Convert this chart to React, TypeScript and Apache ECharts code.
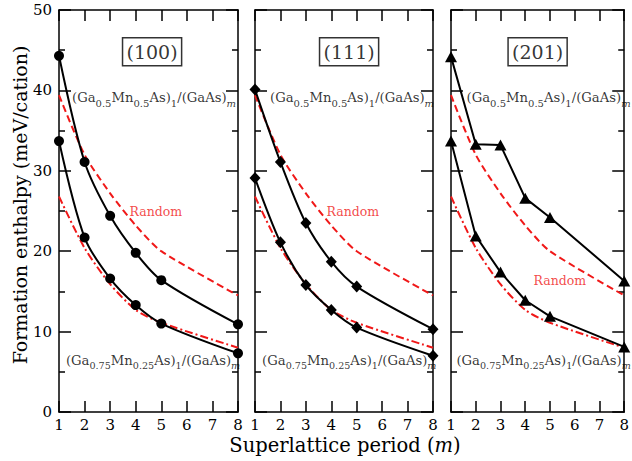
import React, { useEffect, useRef } from 'react';
import * as echarts from 'echarts';

// ---- data ----
const periods = [1, 2, 3, 4, 5, 8];
const tickPeriods = [1, 2, 3, 4, 5, 6, 7, 8];
const panelLabels = ['(100)', '(111)', '(201)'];
const panelSymbols = ['circle', 'diamond', 'triangle'];

const half100 = [44.3, 31.1, 24.4, 19.8, 16.4, 10.9];
const quarter100 = [33.7, 21.7, 16.6, 13.3, 11.0, 7.3];
const half111 = [40.1, 31.1, 23.5, 18.7, 15.6, 10.3];
const quarter111 = [29.1, 21.1, 15.8, 12.7, 10.5, 7.0];
const half201 = [44.2, 33.3, 33.2, 26.6, 24.2, 16.3];
const quarter201 = [33.7, 21.9, 17.4, 13.9, 11.9, 8.1];
const randomHalf = [39.4, 32.0, 27.2, 23.2, 20.0, 14.5];
const randomQuarter = [26.8, 20.4, 15.9, 12.7, 11.1, 8.0];

const halfSeries = [half100, half111, half201];
const quarterSeries = [quarter100, quarter111, quarter201];

const FONT = 'DejaVu Serif';
const RED = '#f01818';

export default function App() {
  const ref = useRef<HTMLDivElement>(null);

  useEffect(() => {
    const chart = echarts.init(ref.current!, null, { renderer: 'svg' });

    const grids = [
      { left: 59, top: 10, width: 179, height: 402 },
      { left: 255, top: 10, width: 178, height: 402 },
      { left: 451, top: 10, width: 179, height: 402 },
    ];

    const axisLine = { show: true, onZero: false, lineStyle: { color: '#000', width: 1.5 } };
    const tickStyle = { color: '#000', width: 1.5 };

    const xAxis: any[] = [];
    const yAxis: any[] = [];
    grids.forEach((_, i) => {
      ['bottom', 'top'].forEach((pos) => {
        xAxis.push({
          gridIndex: i,
          type: 'value',
          position: pos,
          min: 1,
          max: 8,
          interval: 1,
          axisLine,
          axisTick: { show: true, inside: true, length: 11, lineStyle: tickStyle },
          axisLabel: {
            show: pos === 'bottom',
            color: '#000',
            fontFamily: FONT,
            fontSize: 15,
            margin: 5,
            customValues: tickPeriods,
          },
          splitLine: { show: false },
        });
      });
      ['left', 'right'].forEach((pos) => {
        yAxis.push({
          gridIndex: i,
          type: 'value',
          position: pos,
          min: 0,
          max: 50,
          interval: 10,
          axisLine,
          axisTick: { show: true, inside: true, length: 12, lineStyle: tickStyle },
          minorTick: { show: true, splitNumber: 2, length: 6, lineStyle: tickStyle },
          axisLabel: {
            show: i === 0 && pos === 'left',
            color: '#000',
            fontFamily: FONT,
            fontSize: 15,
            margin: 7,
          },
          splitLine: { show: false },
          minorSplitLine: { show: false },
        });
      });
    });

    const makeRich = (sub: number) => ({
      m: { fontSize: 13.2, fontFamily: FONT, color: '#000', verticalAlign: 'top' },
      s: { fontSize: sub, fontFamily: FONT, color: '#000', verticalAlign: 'top', padding: [7, 0, 0, 0] },
      si: {
        fontSize: sub,
        fontFamily: FONT,
        fontStyle: 'italic',
        color: '#000',
        verticalAlign: 'top',
        padding: [7, 0, 0, 0],
      },
    });
    const upperRich = makeRich(10);
    const lowerRich = makeRich(9.6);
    const upperText = '{m|(Ga}{s|0.5}{m|Mn}{s|0.5}{m|As)}{s|1}{m|/(GaAs)}{si|m}';
    const lowerText = '{m|(Ga}{s|0.75}{m|Mn}{s|0.25}{m|As)}{s|1}{m|/(GaAs)}{si|m}';

    // annotation anchor positions (data coordinates of each panel)
    const boxPos = [[4.64, 44.8], [4.7, 44.8], [4.5, 44.8]];
    const upperPos = [[1.51, 38.85], [1.59, 38.85], [1.63, 38.85]];
    const lowerPos = [[1.27, 6.2], [1.28, 6.2], [1.22, 6.2]];
    const randomPos = [[4.79, 25.0], [4.85, 25.0], [5.4, 16.4]];

    const series: any[] = [];
    grids.forEach((_, i) => {
      const xi = i * 2;
      const yi = i * 2;
      series.push({
        type: 'line',
        xAxisIndex: xi,
        yAxisIndex: yi,
        data: periods.map((p, k) => [p, randomHalf[k]]),
        symbol: 'none',
        smooth: 0.25,
        lineStyle: { color: RED, width: 2, type: [7, 4] },
        z: 2,
        silent: true,
      });
      series.push({
        type: 'line',
        xAxisIndex: xi,
        yAxisIndex: yi,
        data: periods.map((p, k) => [p, randomQuarter[k]]),
        symbol: 'none',
        smooth: 0.25,
        lineStyle: { color: RED, width: 2, type: [8, 3, 2, 3] },
        z: 2,
        silent: true,
      });
      [halfSeries[i], quarterSeries[i]].forEach((vals) => {
        series.push({
          type: 'line',
          xAxisIndex: xi,
          yAxisIndex: yi,
          data: periods.map((p, k) => [p, vals[k]]),
          symbol: panelSymbols[i],
          symbolSize: i === 0 ? 10 : i === 1 ? [11, 12] : [12, 11],
          showAllSymbol: true,
          smooth: i < 2 ? 0.3 : false,
          itemStyle: { color: '#000' },
          lineStyle: { color: '#000', width: 2 },
          z: 3,
          silent: true,
        });
      });
      series.push({
        type: 'scatter',
        xAxisIndex: xi,
        yAxisIndex: yi,
        symbolSize: 0,
        silent: true,
        z: 5,
        data: [
          {
            value: boxPos[i],
            label: {
              show: true,
              position: 'inside',
              formatter: panelLabels[i],
              fontFamily: FONT,
              fontSize: 19,
              color: '#000',
              borderColor: '#000',
              borderWidth: 1.5,
              padding: [5, 4, 4, 4],
            },
          },
          {
            value: upperPos[i],
            label: { show: true, position: 'right', distance: 0, formatter: upperText, rich: upperRich },
          },
          {
            value: lowerPos[i],
            label: { show: true, position: 'right', distance: 0, formatter: lowerText, rich: lowerRich },
          },
          {
            value: randomPos[i],
            label: {
              show: true,
              position: 'inside',
              formatter: 'Random',
              fontFamily: FONT,
              fontSize: 12.5,
              color: RED,
            },
          },
        ],
      });
    });

    chart.setOption({
      animation: false,
      backgroundColor: '#fff',
      textStyle: { fontFamily: FONT },
      grid: grids.map((g) => ({ ...g, containLabel: false })),
      xAxis,
      yAxis,
      series,
      graphic: [
        {
          type: 'text',
          x: 20,
          y: 205,
          rotation: Math.PI / 2,
          style: {
            text: 'Formation enthalpy (meV/cation)',
            font: '19px ' + FONT,
            fill: '#000',
            align: 'center',
            verticalAlign: 'middle',
          },
        },
        {
          type: 'text',
          x: 345,
          y: 445,
          style: {
            text: 'Superlattice period ({i|m})',
            font: '19.5px ' + FONT,
            fill: '#000',
            align: 'center',
            verticalAlign: 'middle',
            rich: { i: { font: 'italic 19.5px ' + FONT, fill: '#000' } },
          },
        },
      ],
    });

    return () => chart.dispose();
  }, []);

  return (
    <div
      ref={ref}
      style={{ position: 'fixed', left: 0, top: 0, width: 632, height: 461, background: '#fff', fontFamily: FONT }}
    />
  );
}
